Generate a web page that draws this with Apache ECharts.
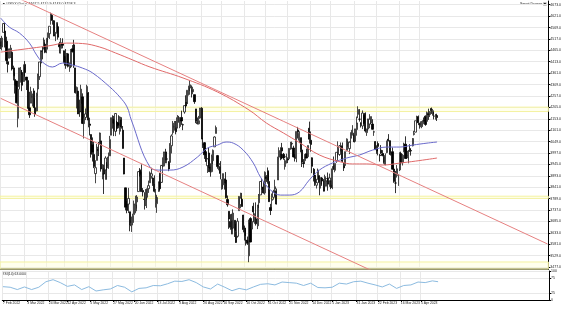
<!DOCTYPE html>
<html><head><meta charset="utf-8">
<script src="https://cdn.jsdelivr.net/npm/echarts@6/dist/echarts.min.js"></script>
<style>html,body{margin:0;padding:0;background:#fff}#c{width:564px;height:310px}</style>
</head><body><div id="c"></div>
<script>
// [date, open, high, low, close]
const bars = [
['2022-02-07',4505,4521,4471,4484],['2022-02-08',4480,4531,4465,4521],['2022-02-09',4547,4590,4547,4587],['2022-02-10',4553,4588,4478,4504],['2022-02-11',4507,4527,4402,4419],
['2022-02-14',4413,4427,4364,4401],['2022-02-15',4429,4473,4429,4472],['2022-02-16',4456,4490,4430,4475],['2022-02-17',4456,4456,4373,4380],['2022-02-18',4385,4395,4328,4349],
['2022-02-22',4332,4363,4268,4305],['2022-02-23',4325,4326,4223,4226],['2022-02-24',4155,4295,4114,4288],['2022-02-25',4299,4385,4287,4385],['2022-02-28',4355,4389,4318,4374],
['2022-03-01',4364,4375,4279,4306],['2022-03-02',4323,4401,4322,4387],['2022-03-03',4401,4416,4346,4364],['2022-03-04',4343,4343,4284,4329],['2022-03-07',4327,4328,4199,4201],
['2022-03-08',4203,4276,4157,4171],['2022-03-09',4224,4299,4224,4278],['2022-03-10',4252,4268,4209,4260],['2022-03-11',4280,4292,4202,4204],['2022-03-14',4203,4247,4162,4173],
['2022-03-15',4189,4272,4187,4262],['2022-03-16',4289,4358,4261,4357],['2022-03-17',4345,4412,4330,4412],['2022-03-18',4407,4465,4390,4463],['2022-03-21',4462,4481,4424,4461],
['2022-03-22',4470,4523,4470,4512],['2022-03-23',4493,4501,4452,4456],['2022-03-24',4470,4520,4452,4520],['2022-03-25',4523,4546,4501,4543],['2022-03-28',4541,4575,4517,4575],
['2022-03-29',4602,4637,4582,4632],['2022-03-30',4624,4627,4582,4602],['2022-03-31',4600,4603,4530,4530],['2022-04-01',4540,4549,4507,4546],['2022-04-04',4547,4593,4541,4583],
['2022-04-05',4573,4593,4514,4525],['2022-04-06',4495,4504,4451,4481],['2022-04-07',4474,4521,4450,4500],['2022-04-08',4494,4520,4474,4488],['2022-04-11',4463,4464,4408,4413],
['2022-04-12',4438,4471,4381,4397],['2022-04-13',4397,4453,4393,4447],['2022-04-14',4449,4453,4387,4392],['2022-04-18',4385,4410,4367,4391],['2022-04-19',4390,4471,4387,4463],
['2022-04-20',4472,4489,4455,4460],['2022-04-21',4490,4513,4385,4394],['2022-04-22',4385,4385,4268,4272],['2022-04-25',4255,4300,4200,4296],['2022-04-26',4279,4280,4175,4175],
['2022-04-27',4187,4240,4162,4184],['2022-04-28',4222,4308,4188,4288],['2022-04-29',4253,4269,4129,4132],['2022-05-02',4131,4169,4063,4155],['2022-05-03',4159,4200,4147,4175],
['2022-05-04',4181,4308,4161,4300],['2022-05-05',4271,4275,4114,4147],['2022-05-06',4129,4158,4077,4123],['2022-05-09',4081,4082,3976,3991],['2022-05-10',4035,4068,3958,4001],
['2022-05-11',3990,4049,3928,3935],['2022-05-12',3903,3964,3859,3930],['2022-05-13',3963,4038,3963,4024],['2022-05-16',4013,4047,3983,4008],['2022-05-17',4052,4090,4034,4088],
['2022-05-18',4052,4052,3912,3924],['2022-05-19',3900,3946,3877,3901],['2022-05-20',3927,3944,3810,3901],['2022-05-23',3920,3982,3875,3974],['2022-05-24',3943,3955,3875,3941],
['2022-05-25',3929,3999,3925,3979],['2022-05-26',3984,4075,3984,4058],['2022-05-27',4078,4158,4078,4158],['2022-05-31',4151,4169,4108,4132],['2022-06-01',4150,4166,4074,4101],
['2022-06-02',4096,4178,4074,4177],['2022-06-03',4137,4143,4096,4109],['2022-06-06',4135,4169,4110,4121],['2022-06-07',4096,4164,4081,4161],['2022-06-08',4148,4160,4108,4116],
['2022-06-09',4101,4120,4017,4018],['2022-06-10',3974,3974,3900,3901],['2022-06-13',3838,3838,3735,3750],['2022-06-14',3764,3778,3722,3735],['2022-06-15',3764,3838,3723,3790],
['2022-06-16',3729,3729,3640,3667],['2022-06-17',3665,3707,3637,3675],['2022-06-20',3680,3720,3667,3712],['2022-06-21',3716,3780,3716,3765],['2022-06-22',3733,3802,3722,3760],
['2022-06-23',3774,3805,3744,3796],['2022-06-24',3821,3914,3821,3912],['2022-06-27',3920,3928,3889,3900],['2022-06-28',3913,3945,3820,3821],['2022-06-29',3826,3837,3799,3819],
['2022-06-30',3786,3818,3739,3785],['2022-07-01',3784,3832,3755,3828],['2022-07-05',3795,3834,3746,3834],['2022-07-06',3834,3871,3815,3848],['2022-07-07',3861,3913,3861,3906],
['2022-07-08',3891,3930,3880,3902],['2022-07-11',3883,3886,3847,3858],['2022-07-12',3857,3895,3817,3822],['2022-07-13',3770,3833,3748,3805],['2022-07-14',3766,3798,3724,3794],
['2022-07-15',3822,3866,3820,3866],['2022-07-18',3900,3906,3827,3834],['2022-07-19',3863,3942,3860,3940],['2022-07-20',3936,3977,3932,3963],['2022-07-21',3963,4002,3936,4002],
['2022-07-22',4002,4016,3950,3965],['2022-07-25',3969,3975,3950,3970],['2022-07-26',3956,3960,3914,3924],['2022-07-27',3954,4042,3942,4027],['2022-07-28',4030,4082,3995,4075],
['2022-07-29',4090,4143,4080,4133],['2022-08-01',4115,4143,4099,4122],['2022-08-02',4113,4143,4082,4094],['2022-08-03',4110,4170,4110,4158],['2022-08-04',4158,4166,4135,4155],
['2022-08-05',4118,4154,4110,4148],['2022-08-08',4159,4190,4125,4143],['2022-08-09',4126,4131,4101,4125],['2022-08-10',4184,4214,4176,4213],['2022-08-11',4230,4260,4203,4211],
['2022-08-12',4230,4283,4220,4283],['2022-08-15',4264,4304,4259,4300],['2022-08-16',4293,4328,4280,4308],['2022-08-17',4283,4305,4250,4277],['2022-08-18',4276,4299,4265,4287],
['2022-08-19',4263,4263,4221,4231],['2022-08-22',4198,4198,4133,4141],['2022-08-23',4136,4159,4127,4131],['2022-08-24',4130,4166,4127,4144],['2022-08-25',4156,4202,4153,4202],
['2022-08-26',4201,4206,4060,4061],['2022-08-29',4037,4065,4020,4034],['2022-08-30',4044,4047,3970,3989],['2022-08-31',4003,4018,3957,3958],['2022-09-01',3939,3973,3906,3970],
['2022-09-02',3997,4021,3910,3927],['2022-09-06',3933,3950,3889,3911],['2022-09-07',3912,3990,3909,3983],['2022-09-08',3962,4013,3947,4009],['2022-09-09',4025,4073,4025,4070],
['2022-09-12',4086,4122,4086,4113],['2022-09-13',3985,3988,3925,3935],['2022-09-14',3943,3966,3918,3949],['2022-09-15',3935,3960,3877,3904],['2022-09-16',3833,3876,3830,3876],
['2022-09-19',3852,3903,3840,3903],['2022-09-20',3878,3880,3830,3859],['2022-09-21',3874,3910,3790,3793],['2022-09-22',3785,3803,3752,3761],['2022-09-23',3731,3731,3651,3696],
['2022-09-26',3685,3718,3647,3658],['2022-09-27',3689,3720,3626,3651],['2022-09-28',3654,3740,3626,3723],['2022-09-29',3690,3690,3614,3643],['2022-09-30',3636,3674,3587,3589],
['2022-10-03',3617,3700,3611,3686],['2022-10-04',3734,3800,3734,3799],['2022-10-05',3761,3816,3745,3791],['2022-10-06',3786,3815,3752,3753],['2022-10-07',3714,3715,3635,3648],
['2022-10-10',3655,3666,3598,3620],['2022-10-11',3600,3648,3575,3597],['2022-10-12',3598,3616,3578,3585],['2022-10-13',3528,3693,3499,3678],['2022-10-14',3698,3704,3590,3591],
['2022-10-17',3650,3690,3650,3685],['2022-10-18',3754,3770,3681,3728],['2022-10-19',3698,3722,3674,3703],['2022-10-20',3697,3772,3666,3674],['2022-10-21',3665,3760,3650,3760],
['2022-10-24',3770,3810,3746,3805],['2022-10-25',3806,3867,3806,3867],['2022-10-26',3833,3882,3830,3839],['2022-10-27',3842,3867,3812,3815],['2022-10-28',3815,3913,3807,3909],
['2022-10-31',3889,3896,3865,3880],['2022-11-01',3916,3931,3857,3871],['2022-11-02',3867,3909,3774,3775],['2022-11-03',3748,3765,3714,3735],['2022-11-04',3781,3812,3733,3786],
['2022-11-07',3795,3829,3784,3822],['2022-11-08',3832,3875,3800,3843],['2022-11-09',3825,3835,3762,3764],['2022-11-10',3874,3980,3874,3971],['2022-11-11',3978,4023,3970,4008],
['2022-11-14',3992,4023,3964,3972],['2022-11-15',4021,4043,3968,4006],['2022-11-16',3991,3997,3966,3974],['2022-11-17',3935,3970,3921,3962],['2022-11-18',3980,3994,3949,3980],
['2022-11-21',3971,3977,3951,3965],['2022-11-22',3971,4019,3971,4018],['2022-11-23',4015,4048,4012,4042],['2022-11-25',4038,4049,4033,4041],['2022-11-28',4020,4030,3977,3979],
['2022-11-29',3979,3991,3958,3973],['2022-11-30',3972,4095,3955,4095],['2022-12-01',4102,4116,4063,4092],['2022-12-02',4055,4096,4042,4087],['2022-12-05',4067,4067,4000,4014],
['2022-12-06',4011,4016,3933,3956],['2022-12-07',3952,3969,3930,3949],['2022-12-08',3962,3992,3950,3979],['2022-12-09',3994,4017,3973,3974],['2022-12-12',3980,4031,3976,4031],
['2022-12-13',4110,4140,4040,4060],['2022-12-14',4055,4095,4003,4036],['2022-12-15',3975,3977,3905,3936],['2022-12-16',3923,3928,3867,3892],['2022-12-19',3896,3903,3847,3858],
['2022-12-20',3850,3879,3835,3862],['2022-12-21',3879,3926,3875,3919],['2022-12-22',3893,3895,3804,3862],['2022-12-23',3855,3885,3835,3885],['2022-12-27',3883,3886,3847,3869],
['2022-12-28',3869,3878,3822,3823],['2022-12-29',3845,3898,3845,3889],['2022-12-30',3870,3880,3844,3880],['2023-01-03',3883,3908,3825,3855],['2023-01-04',3870,3903,3843,3883],
['2023-01-05',3870,3871,3832,3839],['2023-01-06',3853,3937,3832,3925],['2023-01-09',3940,3981,3920,3923],['2023-01-10',3918,3950,3909,3949],['2023-01-11',3962,4000,3952,4000],
['2023-01-12',4007,4050,3976,4013],['2023-01-13',3990,4033,3984,4029],['2023-01-17',4020,4045,4004,4021],['2023-01-18',4030,4045,3955,3959],['2023-01-19',3940,3952,3915,3929],
['2023-01-20',3940,4003,3933,4003],['2023-01-23',4008,4064,4004,4050],['2023-01-24',4040,4062,4025,4047],['2023-01-25',4017,4050,3992,4046],['2023-01-26',4064,4090,4044,4090],
['2023-01-27',4080,4124,4077,4101],['2023-01-30',4079,4089,4047,4048],['2023-01-31',4050,4107,4045,4107],['2023-02-01',4104,4163,4076,4134],['2023-02-02',4173,4210,4156,4195],
['2023-02-03',4151,4197,4140,4151],['2023-02-06',4134,4137,4113,4126],['2023-02-07',4120,4191,4106,4179],['2023-02-08',4168,4173,4128,4133],['2023-02-09',4178,4182,4090,4097],
['2023-02-10',4090,4108,4075,4105],['2023-02-13',4106,4153,4098,4152],['2023-02-14',4129,4174,4110,4151],['2023-02-15',4134,4163,4128,4163],['2023-02-16',4129,4151,4104,4105],
['2023-02-17',4092,4099,4075,4094],['2023-02-21',4049,4051,4011,4012],['2023-02-22',4016,4032,3993,4006],['2023-02-23',4040,4050,3986,4027],['2023-02-24',3988,3992,3958,3985],
['2023-02-27',4010,4033,3993,3997],['2023-02-28',3993,4010,3982,3985],['2023-03-01',3978,3996,3948,3956],['2023-03-02',3944,3995,3941,3986],['2023-03-03',3999,4053,3996,4051],
['2023-03-06',4060,4083,4050,4053],['2023-03-07',4053,4055,3989,3991],['2023-03-08',3992,4006,3985,3997],['2023-03-09',4003,4022,3922,3923],['2023-03-10',3924,3940,3861,3867],
['2023-03-13',3860,3915,3814,3860],['2023-03-14',3900,3942,3885,3925],['2023-03-15',3895,3900,3847,3897],['2023-03-16',3920,4000,3915,3995],['2023-03-17',3995,4003,3945,3952],
['2023-03-20',3953,3992,3940,3987],['2023-03-21',4010,4044,4000,4038],['2023-03-22',4037,4073,3970,3972],['2023-03-23',3985,4035,3970,3983],['2023-03-24',3974,4011,3950,4006],
['2023-03-27',4017,4037,4002,4012],['2023-03-28',4008,4015,3985,4006],['2023-03-29',4030,4065,4027,4063],['2023-03-30',4081,4098,4077,4086],['2023-03-31',4092,4144,4091,4144],
['2023-04-03',4135,4167,4132,4160],['2023-04-04',4163,4168,4124,4136],['2023-04-05',4133,4134,4108,4125],['2023-04-06',4116,4143,4110,4140],['2023-04-10',4130,4146,4116,4144],
['2023-04-11',4145,4159,4141,4144],['2023-04-12',4165,4168,4121,4127],['2023-04-13',4141,4186,4139,4181],['2023-04-14',4175,4199,4148,4173],['2023-04-17',4172,4187,4161,4186],
['2023-04-18',4200,4204,4175,4190],['2023-04-19',4175,4198,4167,4190],['2023-04-20',4165,4184,4150,4165],['2023-04-21',4167,4175,4149,4168],['2023-04-24',4167.5,4175.9,4143.0,4158.3]
];

// moving averages
const maFastDates = ['2022-02-07','2022-02-15','2022-02-25','2022-03-08','2022-03-15','2022-03-21','2022-03-30','2022-04-08','2022-04-20','2022-04-29','2022-05-10','2022-05-26','2022-06-07','2022-06-14','2022-06-17','2022-07-07','2022-07-18','2022-07-27','2022-08-09','2022-08-23','2022-09-01','2022-09-13','2022-09-21','2022-09-28','2022-10-07','2022-10-18','2022-10-25','2022-11-03','2022-11-14','2022-11-22','2022-12-02','2022-12-13','2022-12-22','2023-01-06','2023-01-23','2023-02-03','2023-02-16','2023-03-03','2023-03-16','2023-03-29','2023-04-13','2023-04-24'];
const maFast = [4612,4571,4544,4498,4444,4412,4389,4407,4398,4384,4362,4298,4252,4207,4147,3933,3919,3919,3933,3978,4019,4033,4047,4042,4010,3951,3887,3828,3805,3805,3819,3874,3919,3951,3974,3988,4010,4024,4024,4033,4042,4047];
const maSlowDates = ['2022-02-07','2022-03-25','2022-04-13','2022-04-29','2022-05-17','2022-06-02','2022-06-20','2022-07-07','2022-08-09','2022-09-13','2022-10-13','2022-10-31','2022-11-16','2022-12-02','2022-12-22','2023-01-17','2023-01-27','2023-02-10','2023-02-28','2023-03-16','2023-03-31','2023-04-24'];
const maSlow = [4457,4485,4498,4496,4480,4453,4421,4389,4339,4275,4193,4134,4088,4045,3988,3956,3947,3947,3942,3951,3960,3974];

// RSI(14), one reading every 5 bars (last one on the last bar)
const rsiValues = [46,44,36,45,36,44,63,70,60,47,52,36,46,31,35,38,50,44,28,40,42,50,49,56,65,64,70,60,45,38,55,44,32,40,35,45,54,56,52,62,60,58,50,58,43,42,44,58,55,63,65,58,52,45,55,40,50,52,62,60,66,63];
const rsiStep = 5;

// trend lines [bar index, price]
const upperTrend = [[0, 4740], [381, 3582]];
const lowerTrend = [[0, 4246], [381, 3088]];

// horizontal zones [low, high]
const zones = [[4186, 4206], [3790, 3800], [3468, 3500]];

const yTicks = [4673,4621,4569,4517,4465,4413,4361,4309,4257,4205,4153,4101,4049,3997,3945,3893,3841,3789,3737,3685,3633,3581,3529,3477];
const rsiTicks = [100,75,25,0];
const xLabelDates = ['2022-02-07','2022-03-03','2022-03-24','2022-04-12','2022-05-05','2022-05-27','2022-06-20','2022-07-13','2022-08-03','2022-08-26','2022-09-16','2022-10-10','2022-10-31','2022-11-21','2022-12-14','2023-01-05','2023-01-31','2023-02-22','2023-03-16','2023-04-05'];
const futureSlots = 77;

const MONTHS = ['Jan','Feb','Mar','Apr','May','Jun','Jul','Aug','Sep','Oct','Nov','Dec'];
const dates = bars.map(b => b[0]);
const cats = dates.slice();
for (let i = 1; i <= futureSlots; i++) cats.push('f' + i);
const candleData = bars.map(b => [b[1], b[4], b[3], b[2]]);
const labelSet = new Set(xLabelDates);
const labelInterval = (i, v) => labelSet.has(v);
const fmtDate = v => { const p = v.split('-'); return (+p[2]) + ' ' + MONTHS[+p[1]-1] + ' ' + p[0]; };
const rsiData = rsiValues.map((v, i) => [dates[Math.min(i * rsiStep, dates.length - 1)], v]);
const last = bars[bars.length - 1];

const FONT = 'Liberation Sans';
const GRIDC = '#e8e8e8';
const chart = echarts.init(document.getElementById('c'), null, {renderer: 'canvas'});
chart.setOption({
  animation: false,
  backgroundColor: '#fff',
  textStyle: {fontFamily: FONT},
  grid: [
    {left: 0, top: 1, width: 549, height: 268},
    {left: 0, top: 271, width: 549, height: 29}
  ],
  xAxis: [
    {type: 'category', gridIndex: 0, data: cats, boundaryGap: true,
     axisLine: {show: true, onZero: false, lineStyle: {color: '#000', width: 1.5}},
     axisTick: {show: false}, axisLabel: {show: false},
     splitLine: {show: true, interval: labelInterval, lineStyle: {color: GRIDC, width: 1}}},
    {type: 'category', gridIndex: 1, data: cats, boundaryGap: true,
     axisLine: {show: true, onZero: false, lineStyle: {color: '#000', width: 1}},
     axisTick: {show: true, interval: labelInterval, alignWithLabel: true, length: 2, lineStyle: {color: '#000'}},
     axisLabel: {show: true, interval: labelInterval, formatter: fmtDate, fontSize: 3.4, color: '#222', align: 'left', margin: 2, fontFamily: FONT},
     splitLine: {show: true, interval: labelInterval, lineStyle: {color: GRIDC, width: 1}}}
  ],
  yAxis: [
    {type: 'value', gridIndex: 0, position: 'right', min: 3468, max: 4690, scale: true,
     axisLine: {show: true, lineStyle: {color: '#000', width: 1}},
     axisTick: {show: true, length: 2, customValues: yTicks, lineStyle: {color: '#000'}},
     axisLabel: {show: true, customValues: yTicks, formatter: v => v.toFixed(1), fontSize: 3.5, color: '#222', margin: 2, fontFamily: FONT},
     splitLine: {show: true, lineStyle: {color: GRIDC, width: 1}}},
    {type: 'value', gridIndex: 1, position: 'right', min: 0, max: 100,
     axisLine: {show: true, lineStyle: {color: '#000', width: 1}},
     axisTick: {show: true, length: 2, customValues: rsiTicks, lineStyle: {color: '#000'}},
     axisLabel: {show: true, customValues: rsiTicks, fontSize: 3.5, color: '#222', margin: 2, fontFamily: FONT},
     splitLine: {show: true, lineStyle: {color: GRIDC, width: 1}}}
  ],
  series: [
    {type: 'candlestick', xAxisIndex: 0, yAxisIndex: 0, data: candleData, barWidth: 1.7,
     itemStyle: {color: '#ffffff', color0: '#000000', borderColor: '#1a1a1a', borderColor0: '#000', borderWidth: 0.8},
     markArea: {silent: true, itemStyle: {color: 'rgba(255,255,215,0.45)', borderColor: '#f4f2a0', borderWidth: 1},
       data: zones.map(z => [{yAxis: z[0]}, {yAxis: z[1]}])},
     markLine: {silent: true, symbol: 'none', lineStyle: {opacity: 0},
       label: {show: true, position: 'end', distance: 2, formatter: () => last[4].toFixed(1), backgroundColor: '#000', color: '#fff', fontSize: 3.6, padding: [1, 1.5], fontFamily: FONT},
       data: [{yAxis: last[4]}]}},
    {type: 'line', xAxisIndex: 0, yAxisIndex: 0, data: maFastDates.map((d, i) => [d, maFast[i]]), showSymbol: false, smooth: 0.4,
     lineStyle: {color: '#6a6acb', width: 1}},
    {type: 'line', xAxisIndex: 0, yAxisIndex: 0, data: maSlowDates.map((d, i) => [d, maSlow[i]]), showSymbol: false, smooth: 0.4,
     lineStyle: {color: '#e06a6a', width: 1}},
    {type: 'line', xAxisIndex: 0, yAxisIndex: 0, data: upperTrend, showSymbol: false, clip: true,
     lineStyle: {color: '#e68080', width: 1}},
    {type: 'line', xAxisIndex: 0, yAxisIndex: 0, data: lowerTrend, showSymbol: false, clip: true,
     lineStyle: {color: '#e68080', width: 1}},
    {type: 'line', xAxisIndex: 1, yAxisIndex: 1, data: rsiData, showSymbol: false,
     lineStyle: {color: '#8cbbe0', width: 1}}
  ],
  graphic: [
    {type: 'text', left: 2, top: 2, style: {text: '\u25BC US500,Daily  ' + last.slice(1).map(v => v.toFixed(1)).join(' '), fontSize: 3.6, fill: '#222', fontFamily: FONT}},
    {type: 'text', left: 520, top: 2, style: {text: 'Smart Drawer \u25A3', fontSize: 3.6, fill: '#222', fontFamily: FONT}},
    {type: 'text', left: 2, top: 272.5, style: {text: 'RSI(14) ' + rsiValues[rsiValues.length - 1].toFixed(4), fontSize: 3.4, fill: '#222', fontFamily: FONT}}
  ]
});
</script>
</body></html>
